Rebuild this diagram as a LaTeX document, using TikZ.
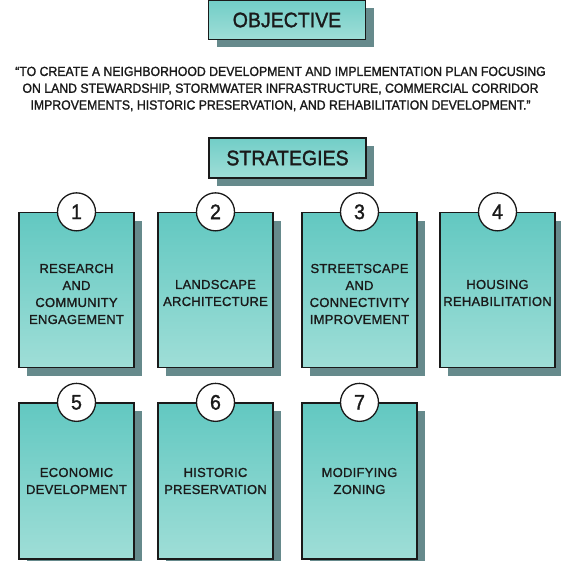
\documentclass[tikz,border=0pt]{standalone}
\usepackage{fontspec}
\setmainfont{Liberation Sans}
\newfontfamily\condfont[FakeStretch=0.93,FakeBold=1.4]{Liberation Sans}
\newfontfamily\cardfont[LetterSpace=2,FakeBold=1.3]{Liberation Sans}
\usetikzlibrary{shadows}
\definecolor{tealtop}{HTML}{62C8C1}
\definecolor{tealbot}{HTML}{9FDED7}
\definecolor{shadowcol}{HTML}{668A8C}
\definecolor{inkcol}{HTML}{1A1A1A}
\tikzset{
  shad/.style={drop shadow={shadow xshift=8pt, shadow yshift=-8pt, fill=shadowcol, opacity=1}},
  card/.style={draw=inkcol, line width=1.3pt, top color=tealtop, bottom color=tealbot,
    minimum width=115pt, minimum height=155pt, inner sep=0pt, shad},
  cardtext/.style={text=inkcol, font=\cardfont\fontsize{13}{17}\selectfont, align=center, inner sep=0pt},
  numcirc/.style={circle, draw=inkcol, line width=1.3pt, fill=white, minimum size=38pt,
    inner sep=0pt, text=inkcol, font=\condfont\fontsize{21}{21}\selectfont},
  titlebox/.style={draw=inkcol, line width=1.3pt, top color=tealtop!90!white, bottom color=tealbot,
    minimum width=157pt, minimum height=39pt, inner sep=0pt, shad, text=inkcol,
    font=\condfont\fontsize{21}{21}\selectfont},
  quotetext/.style={align=center, text=inkcol, font=\condfont\fontsize{13.2}{16.8}\selectfont}
}
\begin{document}
\begin{tikzpicture}[x=1pt,y=-1pt]
\clip (0,0) rectangle (561,561);
\fill[white] (0,0) rectangle (561,561);
\node[titlebox] (obj) at (287,20) {OBJECTIVE};
\node[quotetext] (quote) at (280.5,89) {“TO CREATE A NEIGHBORHOOD DEVELOPMENT AND IMPLEMENTATION PLAN FOCUSING\\ON LAND STEWARDSHIP, STORMWATER INFRASTRUCTURE, COMMERCIAL CORRIDOR\\IMPROVEMENTS, HISTORIC PRESERVATION, AND REHABILITATION DEVELOPMENT.”};
\node[titlebox, minimum height=40pt] (strat) at (287.5,158) {STRATEGIES};

\node[card] (c1) at (76.5,290) {};
\node[card] (c2) at (215.5,290) {};
\node[card] (c3) at (359.5,290) {};
\node[card] (c4) at (497.5,290) {};
\node[card, minimum height=156pt] (c5) at (76.5,481) {};
\node[card, minimum height=156pt] (c6) at (215.5,481) {};
\node[card, minimum height=156pt] (c7) at (359.5,481) {};

\node[cardtext] (t1) at ([yshift=-4pt]c1.center) {RESEARCH\\AND\\COMMUNITY\\ENGAGEMENT};
\node[cardtext] (t2) at ([yshift=-3pt]c2.center) {LANDSCAPE\\ARCHITECTURE};
\node[cardtext] (t3) at ([yshift=-4pt]c3.center) {STREETSCAPE\\AND\\CONNECTIVITY\\IMPROVEMENT};
\node[cardtext] (t4) at ([yshift=-3pt]c4.center) {HOUSING\\REHABILITATION};
\node[cardtext] (t5) at ([yshift=0pt]c5.center) {ECONOMIC\\DEVELOPMENT};
\node[cardtext] (t6) at ([yshift=0pt]c6.center) {HISTORIC\\PRESERVATION};
\node[cardtext] (t7) at ([yshift=0pt]c7.center) {MODIFYING\\ZONING};

\node[numcirc] (n1) at (c1.north) {1};
\node[numcirc] (n2) at (c2.north) {2};
\node[numcirc] (n3) at (c3.north) {3};
\node[numcirc] (n4) at (c4.north) {4};
\node[numcirc] (n5) at (c5.north) {5};
\node[numcirc] (n6) at (c6.north) {6};
\node[numcirc] (n7) at (c7.north) {7};
\end{tikzpicture}
\end{document}
